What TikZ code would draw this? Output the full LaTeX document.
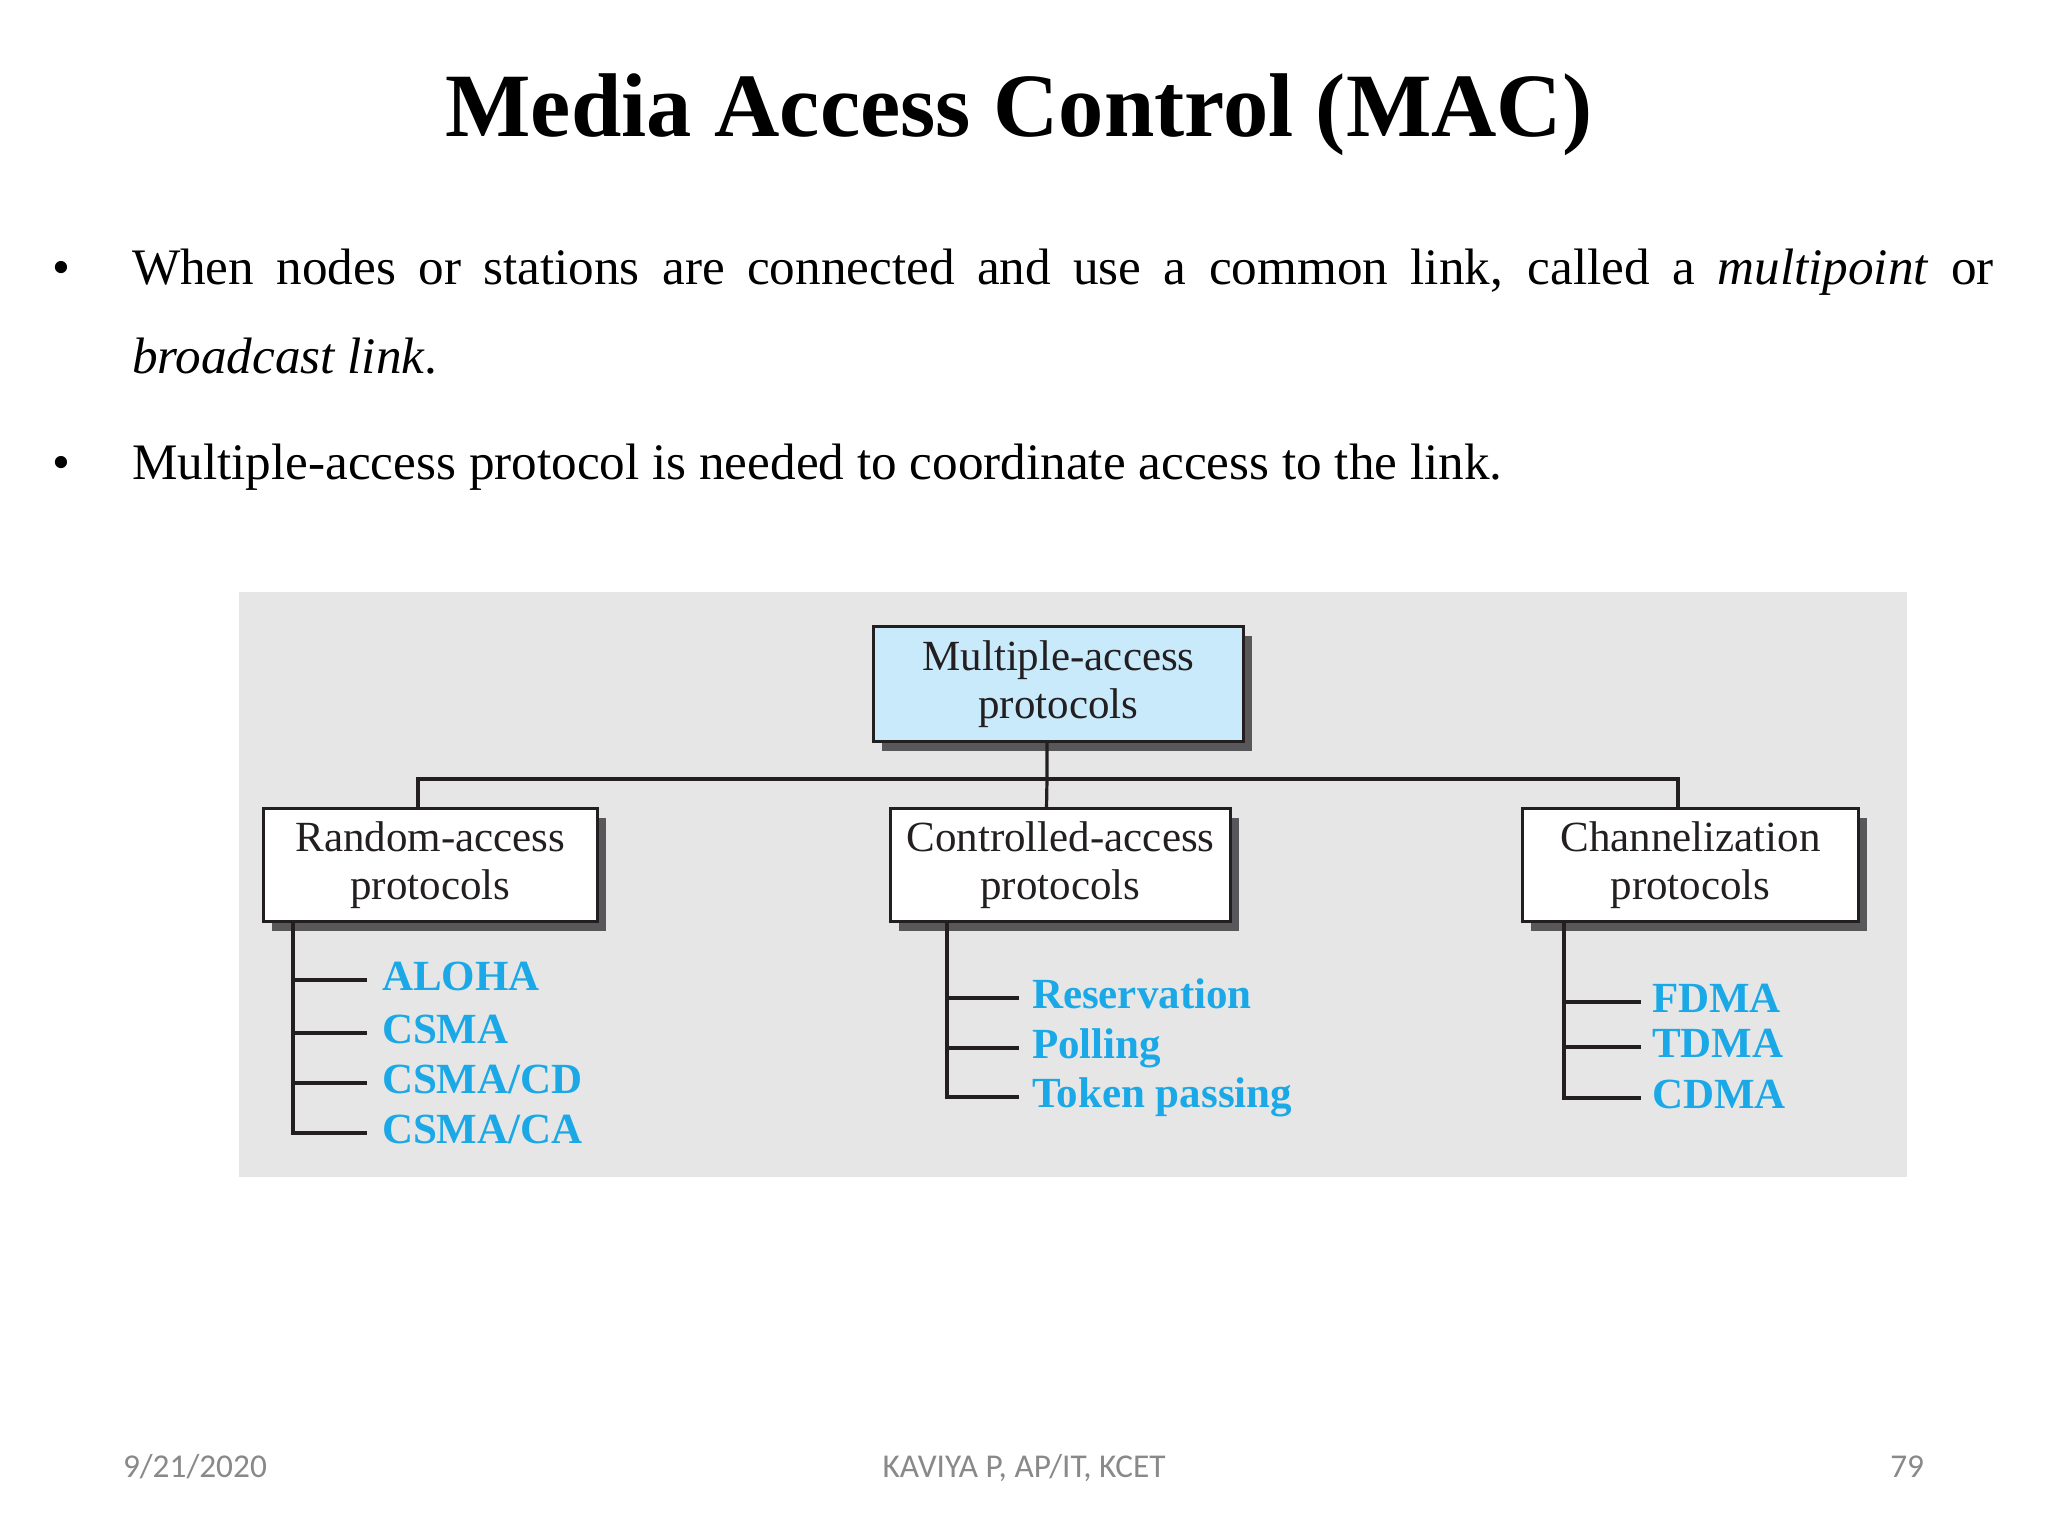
\documentclass[tikz,border=0pt]{standalone}
\usepackage{fontspec}
\setmainfont{Liberation Serif}
\newfontfamily\footfont{Carlito}
\usetikzlibrary{shadows}
\definecolor{panelc}{HTML}{E6E6E7}
\definecolor{shadowc}{HTML}{58585A}
\definecolor{linec}{HTML}{231F20}
\definecolor{topfill}{HTML}{C8EAFA}
\definecolor{itemc}{RGB}{27,168,230}
\definecolor{footc}{HTML}{898989}
\begin{document}
\begin{tikzpicture}[x=1pt,y=-1pt,
  txt/.style={inner sep=0pt,outer sep=0pt,text=black},
  box/.style={draw=linec,line width=3.2pt,align=center,inner sep=0pt,outer sep=0pt,
    font=\fontsize{43}{48}\selectfont,text=linec,
    drop shadow={shadow xshift=8pt,shadow yshift=-9pt,fill=shadowc,opacity=1}},
  conn/.style={draw=linec,line width=3.2pt},
  item/.style={anchor=west,inner sep=0pt,outer sep=0pt,text height=20pt,text depth=0pt,
    font=\fontsize{43}{48}\selectfont\bfseries,text=itemc},
  foot/.style={inner sep=0pt,outer sep=0pt,font=\footfont\fontsize{33.3}{40}\selectfont,text=footc}]
\useasboundingbox (0,0) rectangle (2048,1536);
\fill[white] (0,0) rectangle (2048,1536);

% title
\node[txt,anchor=base] (title) at (1019,137) {\fontsize{90.5}{100}\selectfont\bfseries Media Access Control (MAC)};

% bullets
\node[txt,anchor=base] (b1) at (61,284) {\fontsize{51.2}{89}\selectfont •};
\node[txt,anchor=base west] (l1) at (132,284) {\fontsize{51.2}{89}\selectfont\makebox[1862pt][s]{When nodes or stations are connected and use a common link, called a \textit{multipoint} or}};
\node[txt,anchor=base west] (l2) at (132,373) {\fontsize{51.2}{89}\selectfont\textit{broadcast link}.};
\node[txt,anchor=base] (b2) at (61,479) {\fontsize{51.2}{89}\selectfont •};
\node[txt,anchor=base west] (l3) at (132,479) {\fontsize{51.2}{89}\selectfont Multiple-access protocol is needed to coordinate access to the link.};

% panel
\fill[panelc] (239,592) rectangle (1907,1177);

% boxes
\node[box,fill=topfill,minimum width=370pt,minimum height=115pt] (top) at (1058.5,684) {Multiple-access\\protocols};
\node[box,fill=white,minimum width=334pt,minimum height=113pt] (rnd) at (430.5,865) {Random-access\\protocols};
\node[box,fill=white,minimum width=340pt,minimum height=113pt] (ctl) at (1060.5,865) {Controlled-access\\protocols};
\node[box,fill=white,minimum width=336pt,minimum height=113pt] (chn) at (1690.5,865) {Channelization\\protocols};

% main connectors
\coordinate (hub) at (1047,779);
\draw[conn] ([xshift=-11.5pt]top.south) -- (hub) -- ([xshift=-14pt]ctl.north);
\draw[conn] ([xshift=-12.5pt]rnd.north) |- (hub) -| ([xshift=-12.5pt]chn.north);

% random-access items
\node[item] (r1) at (382,980) {ALOHA};
\node[item] (r2) at (382,1033) {CSMA};
\node[item] (r3) at (382,1083) {CSMA/CD};
\node[item] (r4) at (382,1133) {CSMA/CA};
\coordinate (rs) at (293,921);
\draw[conn] (rs) |- ([xshift=-15pt]r4.west);
\draw[conn] (rs |- r1.west) -- ([xshift=-15pt]r1.west);
\draw[conn] (rs |- r2.west) -- ([xshift=-15pt]r2.west);
\draw[conn] (rs |- r3.west) -- ([xshift=-15pt]r3.west);

% controlled-access items
\node[item] (c1) at (1032,998) {Reservation};
\node[item] (c2) at (1032,1048) {Polling};
\node[item] (c3) at (1032,1097) {Token passing};
\coordinate (cs) at (947,921);
\draw[conn] (cs) |- ([xshift=-13pt]c3.west);
\draw[conn] (cs |- c1.west) -- ([xshift=-13pt]c1.west);
\draw[conn] (cs |- c2.west) -- ([xshift=-13pt]c2.west);

% channelization items
\node[item] (h1) at (1652,1002) {FDMA};
\node[item] (h2) at (1652,1047) {TDMA};
\node[item] (h3) at (1652,1098) {CDMA};
\coordinate (hs) at (1564,921);
\draw[conn] (hs) |- ([xshift=-11pt]h3.west);
\draw[conn] (hs |- h1.west) -- ([xshift=-11pt]h1.west);
\draw[conn] (hs |- h2.west) -- ([xshift=-11pt]h2.west);

% footer
\node[foot,anchor=base west] (date) at (123,1477) {9/21/2020};
\node[foot,anchor=base] (auth) at (1024,1477) {KAVIYA P, AP/IT, KCET};
\node[foot,anchor=base east] (page) at (1924,1477) {79};
\end{tikzpicture}
\end{document}
